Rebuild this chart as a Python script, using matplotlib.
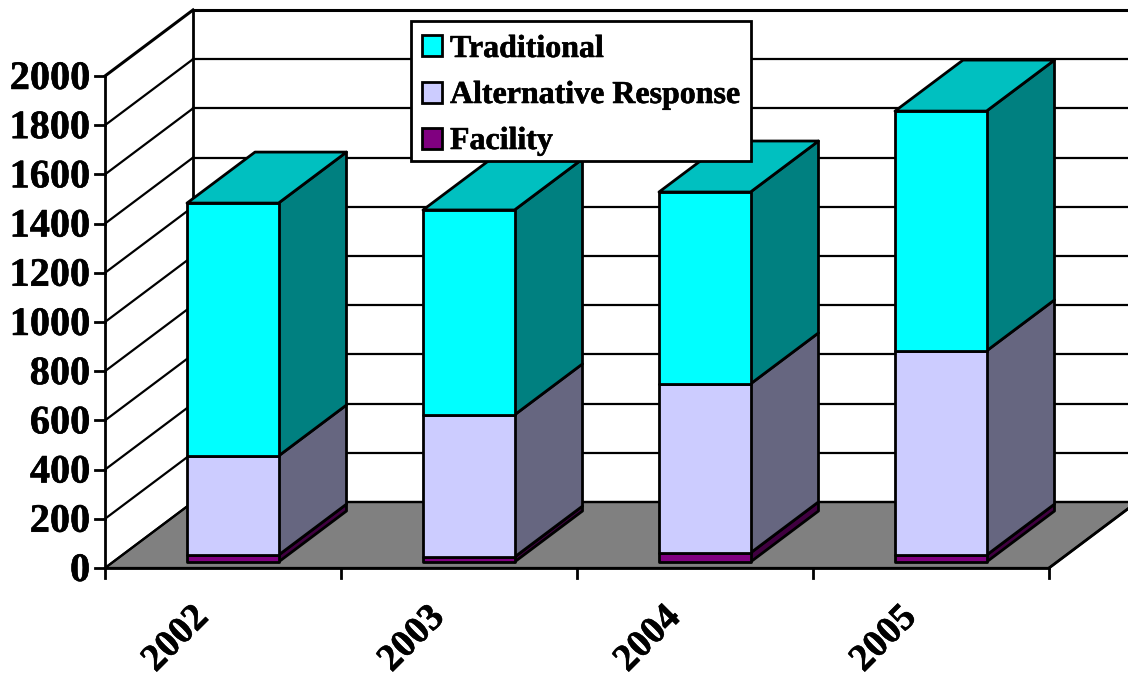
#!/usr/bin/env python3
"""Stacked 3D-look column chart, faces drawn as polygons on a flat axes."""
import matplotlib; matplotlib.use("Agg")
import matplotlib.pyplot as plt
import matplotlib.patheffects as pe
from matplotlib.patches import Polygon, Rectangle

years = ["2002", "2003", "2004", "2005"]
facility = [28, 20, 37, 28]
alternative = [403, 578, 687, 830]
traditional = [1028, 833, 780, 975]
series_names = ["Traditional", "Alternative Response", "Facility"]
y_ticks = list(range(0, 2001, 200))

W, H = 1128, 677
X0, Y0 = 105, 568          # pixel position of the axes origin
PX_CAT, PX_VAL = 236, 0.246
plt.rcParams["font.family"] = ["Liberation Serif", "DejaVu Serif"]
plt.rcParams["font.weight"] = "bold"
heavy = [pe.withStroke(linewidth=0.4, foreground="black")]

fig = plt.figure(figsize=(W / 100, H / 100), dpi=100)
ax = fig.add_axes([0, 0, 1, 1])
ax.set_xlim(-X0 / PX_CAT, (W - X0) / PX_CAT)
ax.set_ylim(-(H - Y0) / PX_VAL, Y0 / PX_VAL)
ax.axis("off")

dx, dy = 88 / PX_CAT, 66 / PX_VAL       # depth of the walls
bw = 91.5 / PX_CAT                      # bar width
bx, by = 82 / PX_CAT, 6 / PX_VAL        # front-face left edge inside a category, lift
bdx, bdy = 68 / PX_CAT, 51 / PX_VAL     # bar depth
n = len(years)


def poly(pts, fc, z=2, lw=2):
    ax.add_patch(Polygon(pts, closed=True, facecolor=fc, edgecolor="black", lw=lw, joinstyle="round", zorder=z))


def px(x, y):
    # picture pixels to data coords, only used for the legend box
    return (x - X0) / PX_CAT, (Y0 - y) / PX_VAL


# floor
poly([(0, 0), (n, 0), (n + dx, dy), (dx, dy)], "#808080", z=1, lw=1.6)
# walls
for v in y_ticks:
    lw = 2.2 if v == 2000 else 1.6
    ax.plot([0, dx], [v, v + dy], color="black", lw=lw, zorder=1.5)
    ax.plot([dx, n + dx], [v + dy, v + dy], color="black", lw=lw, zorder=1.5)
    ax.plot([-10 / PX_CAT, 0], [v, v], color="black", lw=2, zorder=3)
    ax.text(-15 / PX_CAT, v - 14, str(v), ha="right", va="center", fontsize=29, fontweight="bold", path_effects=heavy)
ax.plot([dx, dx], [dy, 2000 + dy], color="black", lw=2, zorder=1.5)
ax.plot([0, 0], [0, 2000], color="black", lw=2, zorder=3)
ax.plot([0, n], [0, 0], color="black", lw=2, zorder=3)
ax.plot([n, n + dx], [0, dy], color="black", lw=2, zorder=1.5)
for i in range(n + 1):
    ax.plot([i, i], [0, -10 / PX_VAL], color="black", lw=2, zorder=3)

# bars
fronts = ["#800080", "#CCCCFF", "#00FFFF"]
sides = ["#400040", "#666680", "#008080"]
for i in range(n):
    x0 = i + bx
    x1 = x0 + bw
    base = by
    for vals, fc, sc in zip([facility, alternative, traditional], fronts, sides):
        top = base + vals[i]
        poly([(x1, base), (x1 + bdx, base + bdy), (x1 + bdx, top + bdy), (x1, top)], sc, z=4)
        poly([(x0, base), (x1, base), (x1, top), (x0, top)], fc, z=5)
        base = top
    poly([(x0, base), (x1, base), (x1 + bdx, base + bdy), (x0 + bdx, base + bdy)], "#00C0C0", z=5)
    ax.text(i + 71 / PX_CAT, -71 / PX_VAL, years[i], rotation=45, ha="center", va="center",
            fontsize=27.5, fontweight="bold", rotation_mode="anchor", path_effects=heavy)

# legend box, placed by hand so the rows sit as in the original
lx, ly = px(411, 161)
ax.add_patch(Rectangle((lx, ly), 340 / PX_CAT, 140 / PX_VAL, facecolor="white", edgecolor="black", lw=2, zorder=10))
for name, c, top_px, base_px in zip(series_names, ["#00FFFF", "#CCCCFF", "#800080"], [35, 82, 128], [57, 103, 149]):
    sx, sy = px(422, top_px + 21)
    ax.add_patch(Rectangle((sx, sy), 20 / PX_CAT, 21 / PX_VAL, facecolor=c, edgecolor="black", lw=2, zorder=11))
    tx, ty = px(450, base_px)
    ax.text(tx, ty, name, ha="left", va="baseline", fontsize=23, fontweight="bold", zorder=11, path_effects=heavy)

fig.savefig("out.png", dpi=100)
